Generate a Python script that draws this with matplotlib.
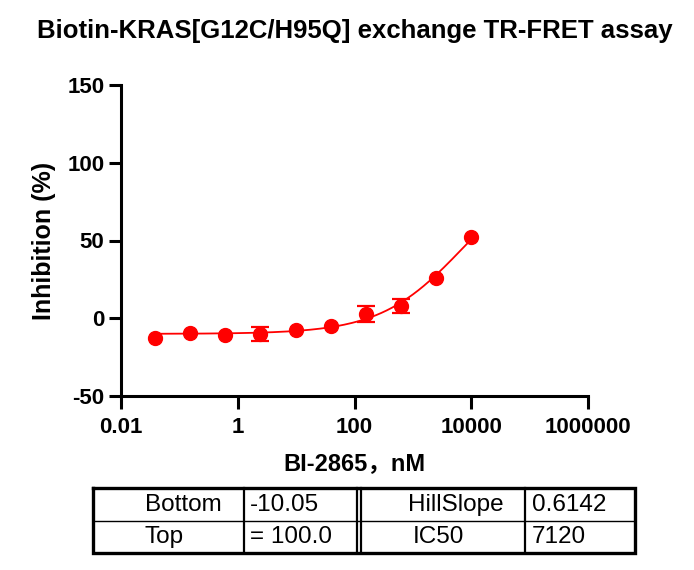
import numpy as np
import matplotlib
matplotlib.use('Agg')
import matplotlib.pyplot as plt

plt.rcParams['font.family'] = ['Liberation Sans', 'Noto Sans CJK SC', 'DejaVu Sans']
plt.rcParams['axes.unicode_minus'] = False

# 4-fold dilution series, nM
conc = [0.0381, 0.153, 0.610, 2.44, 9.77, 39.1, 156, 625, 2500, 10000]
inhib = [-12.7, -9.2, -10.7, -10.1, -7.5, -5.0, 2.7, 7.9, 25.9, 52.0]
# error bars hidden behind the marker are left at 0
err = [0, 0, 0, 4.7, 0, 0, 5.2, 4.7, 0, 0]

# fitted parameters shown in the table
bottom = -10.05
top = 100.0
hill = 0.6142
ic50 = 7120

row1 = ['Bottom', '-10.05', 'HillSlope', '0.6142']
row2 = ['Top', '= 100.0', 'IC50', '7120']

red = '#FF0000'

fig = plt.figure(figsize=(6.94, 5.70), dpi=100)
ax = fig.add_axes([121 / 694, 1 - 396 / 570, (588 - 121) / 694, (396 - 85) / 570])

xfit = np.logspace(np.log10(conc[0]), np.log10(conc[-1]), 300)
yfit = bottom + (top - bottom) / (1 + 10 ** ((np.log10(ic50) - np.log10(xfit)) * hill))
ax.plot(xfit, yfit, color=red, lw=1.3, zorder=2)

# only visible error bars
keep = [i for i, e in enumerate(err) if e > 0]
ax.errorbar([conc[i] for i in keep], [inhib[i] for i in keep],
            yerr=[err[i] for i in keep], fmt='none', ecolor=red,
            elinewidth=1.6, capsize=6.5, capthick=1.6, zorder=3)
ax.plot(conc, inhib, 'o', color=red, ms=10, zorder=4)

ax.set_xscale('log')
ax.set_xlim(0.01, 1e6)
ax.set_ylim(-50, 150)
ax.set_xticks([0.01, 1, 100, 10000, 1000000])
ax.set_xticklabels(['0.01', '1', '100', '10000', '1000000'])
ax.set_yticks([-50, 0, 50, 100, 150])
ax.minorticks_off()
for s in ['top', 'right']:
    ax.spines[s].set_visible(False)
for s in ['left', 'bottom']:
    ax.spines[s].set_linewidth(2.2)
ax.tick_params(width=2.2, length=9, labelsize=16, pad=3)
ax.tick_params(axis='x', pad=6)
for lab in ax.get_xticklabels() + ax.get_yticklabels():
    lab.set_fontweight('bold')

ax.set_ylabel('Inhibition (%)', fontsize=18, fontweight='bold', labelpad=8)
ax.set_xlabel('BI-2865，nM', fontsize=17, fontweight='bold', labelpad=10)
ax.set_title('Biotin-KRAS[G12C/H95Q] exchange TR-FRET assay', fontsize=18.5,
             fontweight='bold', pad=34)

# parameter table drawn in pixel coordinates
tab = fig.add_axes([0, 0, 1, 1], zorder=-1)
tab.set_xlim(0, 694)
tab.set_ylim(570, 0)
tab.axis('off')
x0, x1, xd1, xd2, x3, x4 = 93, 244, 357, 361, 525, 635
y0, ym, y1 = 488, 521, 553
tab.plot([x0, x4, x4, x0, x0], [y0, y0, y1, y1, y0], color='black', lw=2.4,
         solid_joinstyle='miter')
tab.plot([x0, x4], [ym, ym], color='black', lw=1.0)
for xv in [x1, xd1, xd2, x3]:
    tab.plot([xv, xv], [y0, y1], color='black', lw=1.6)

text_x = [145, 250, 408, 532]
for i, t in enumerate(row1):
    tab.text(text_x[i], 511, t, fontsize=17.5, va='baseline', ha='left')
row2_x = [145, 250, 413, 532]
for i, t in enumerate(row2):
    tab.text(row2_x[i], 543, t, fontsize=17.5, va='baseline', ha='left')

fig.savefig('out.png', dpi=100)
